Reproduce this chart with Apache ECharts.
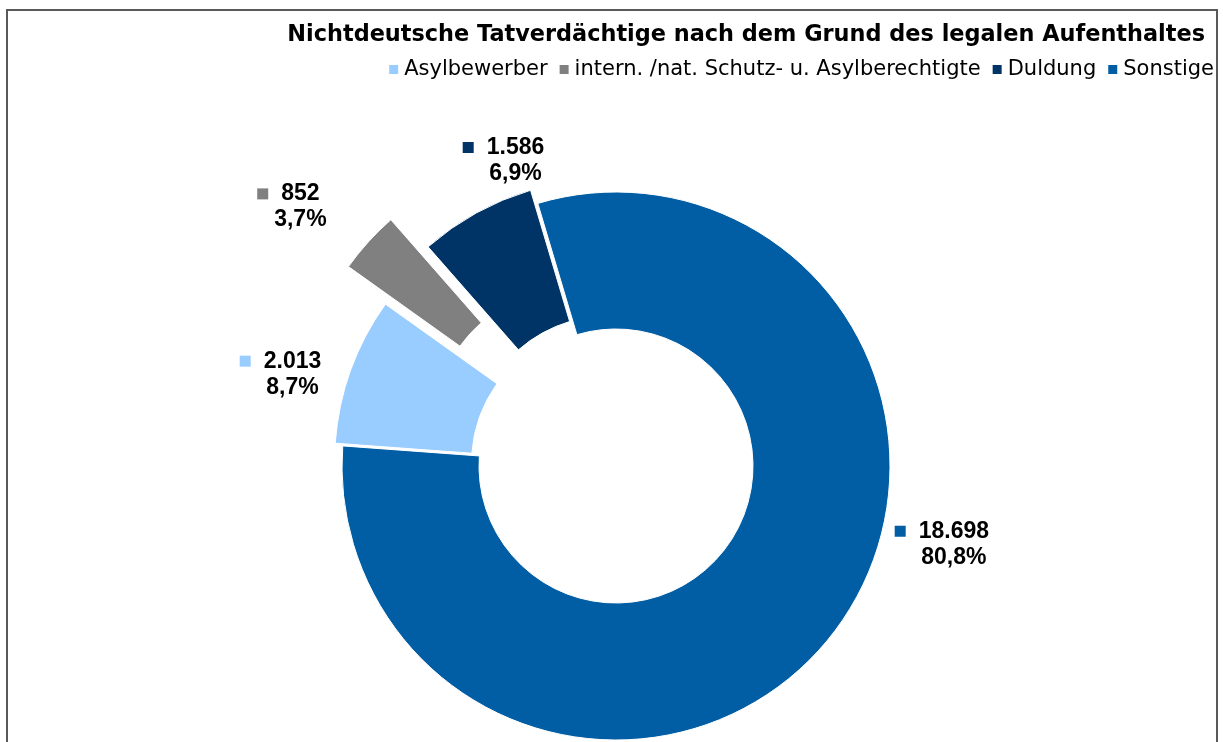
<!DOCTYPE html>
<html>
<head>
<meta charset="utf-8">
<title>Nichtdeutsche Tatverdächtige</title>
<script src="https://cdn.jsdelivr.net/npm/echarts@6/dist/echarts.min.js"></script>
<style>
  html, body { margin: 0; padding: 0; background: #fff; }
  #chart { width: 1223px; height: 742px; }
</style>
</head>
<body>
<div id="chart"></div>
<script>
const categories = ['Asylbewerber', 'intern. /nat. Schutz- u. Asylberechtigte', 'Duldung', 'Sonstige'];
const counts = [2013, 852, 1586, 18698];
const colors = ['#99ccff', '#808080', '#003366', '#015da4'];
// how far each slice is pulled out of the ring
const explode = [8, 60, 15, 0];
// nudge for each data label
const labelShift = [[-42, 8], [-54, -27], [50, -42], [110, -101]];

const total = counts.reduce((a, b) => a + b, 0);
const fmtNum = v => String(v).replace(/\B(?=(\d{3})+(?!\d))/g, '.');
const fmtPct = v => (v / total * 100).toFixed(1).replace('.', ',') + '%';

const chart = echarts.init(document.getElementById('chart'));

const txt = { fontFamily: 'Liberation Sans, Arial', fontSize: 23, fontWeight: 'bold', color: '#000', align: 'center', lineHeight: 26 };

// one series per slice, so every slice can have its own offset
const series = categories.map((name, i) => ({
  type: 'pie',
  center: [616, 466],
  radius: [137, 274],
  startAngle: 175.8,
  clockwise: true,
  avoidLabelOverlap: false,
  selectedMode: 'multiple',
  selectedOffset: explode[i],
  emphasis: { disabled: true },
  silent: true,
  animation: false,
  labelLine: { show: false, length: 12, length2: 0 },
  labelLayout: { dx: labelShift[i][0], dy: labelShift[i][1], align: 'center' },
  data: categories.map((n, j) => j === i ? {
    name: n,
    value: counts[j],
    selected: explode[i] > 0,
    itemStyle: { color: colors[j], borderColor: '#fff', borderWidth: 1 },
    label: {
      show: true,
      position: 'outside',
      formatter: '{m|}{g|}{v|' + fmtNum(counts[j]) + '}{s|}\n{p|' + fmtPct(counts[j]) + '}',
      rich: {
        m: { width: 11, height: 11, backgroundColor: colors[j], verticalAlign: 'middle', align: 'center', lineHeight: 26 },
        g: { width: 13, align: 'center', lineHeight: 26 },
        v: txt,
        s: { width: 24, align: 'center', lineHeight: 26 },
        p: txt
      }
    }
  } : {
    name: '_' + n,
    value: counts[j],
    itemStyle: { color: 'transparent', borderWidth: 0 },
    label: { show: false }
  })
}));

chart.setOption({
  backgroundColor: '#fff',
  title: {
    text: 'Nichtdeutsche Tatverdächtige nach dem Grund des legalen Aufenthaltes',
    right: 13,
    top: 19,
    textStyle: { fontFamily: 'DejaVu Sans', fontSize: 22.4, fontWeight: 'bold', color: '#000' }
  },
  legend: {
    data: categories,
    right: 4,
    top: 54,
    icon: 'rect',
    itemWidth: 11,
    itemHeight: 11,
    itemGap: 10,
    selectedMode: false,
    textStyle: { fontFamily: 'DejaVu Sans', fontSize: 21, color: '#000' }
  },
  graphic: [{
    type: 'rect',
    z: -1,
    shape: { x: 7, y: 10, width: 1210, height: 800 },
    style: { fill: 'none', stroke: '#595959', lineWidth: 2 }
  }],
  series: series
});

window.addEventListener('resize', () => chart.resize());
</script>
</body>
</html>
